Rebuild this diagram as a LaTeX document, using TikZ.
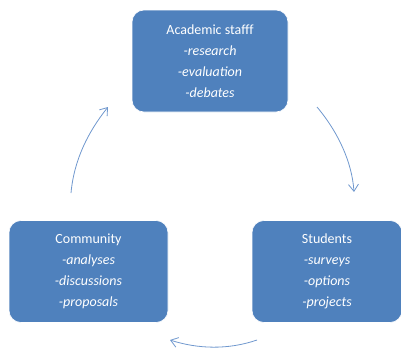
\documentclass[tikz,border=0pt]{standalone}
\usepackage{fontspec}
\setmainfont{Carlito}
\usetikzlibrary{arrows.meta}
\definecolor{boxblue}{RGB}{79,129,189}
\definecolor{arrowblue}{RGB}{112,152,206}
\tikzset{
  card/.style={draw=white, line width=0.6pt, fill=boxblue, rounded corners=12pt,
    minimum width=156pt, minimum height=102pt, text=white, align=center,
    font=\fontsize{14pt}{21pt}\selectfont, inner sep=0pt},
  cyc/.style={draw=arrowblue, line width=0.8pt, -{Straight Barb[length=7pt,width=10pt]}}
}
\begin{document}
\begin{tikzpicture}[x=1pt,y=-1pt]
\useasboundingbox (0,0) rectangle (401,354);
\node[card] (staff) at (210,61) {Academic stafff\\\textit{-research}\\\textit{-evaluation}\\\textit{-debates}};
\node[card, minimum width=159pt] (comm) at (88.5,271.5) {Community\\\textit{-analyses}\\\textit{-discussions}\\\textit{-proposals}};
\node[card, minimum width=150pt] (stud) at (327,271.5) {Students\\\textit{-surveys}\\\textit{-options}\\\textit{-projects}};
\coordinate (a1) at (317,107);
\coordinate (a2) at (354,192);
\coordinate (b1) at (257,340);
\coordinate (b2) at (170,340);
\coordinate (c1) at (71,193);
\coordinate (c2) at (108,107);
\draw[cyc] (a1) .. controls (338,132) and (352,162) .. (a2);
\draw[cyc] (b1) .. controls (228,350) and (198,349) .. (b2);
\draw[cyc] (c1) .. controls (74,160) and (88,132) .. (c2);
\end{tikzpicture}
\end{document}
